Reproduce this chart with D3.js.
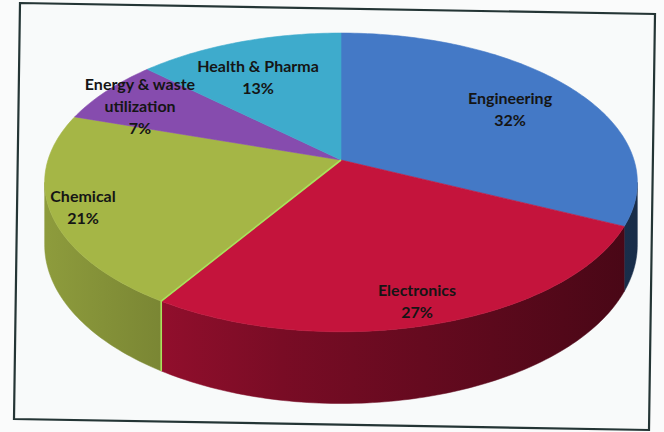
<!DOCTYPE html>
<html>
<head>
<meta charset="utf-8">
<script src="https://cdn.jsdelivr.net/npm/d3@7"></script>
<style>
  html, body { margin: 0; padding: 0; background: #fafbfb; }
  svg { display: block; }
</style>
</head>
<body>
<svg width="664" height="432"></svg>
<script>
// data
const categories = ['Engineering', 'Electronics', 'Chemical', 'Energy & waste utilization', 'Health & Pharma'];
const values = [32, 27, 21, 7, 13];
const labelLines = [['Engineering'], ['Electronics'], ['Chemical'], ['Energy & waste', 'utilization'], ['Health & Pharma']];
const colors = ['#4479c6', '#c4143c', '#a5b646', '#864cae', '#3eabcc'];

const svg = d3.select('svg');
const width = +svg.attr('width');
const height = +svg.attr('height');

// page + scanned frame (slightly rotated)
svg.append('rect').attr('width', width).attr('height', height).attr('fill', '#fafbfb');
svg.append('path')
    .attr('d', 'M20,3 L655,14 L649,430 L14,419 Z')
    .attr('fill', '#f8fafa')
    .attr('stroke', '#243535')
    .attr('stroke-width', 2.2);

// 3D pie geometry (perspective tilt)
const cx = 341, cy = 160, rx = 293, ry = 146, k = 0.15, depth = 61;
const xScale = d3.scaleLinear().domain([-1, 1]).range([cx - rx, cx + rx]);
const yScale = d3.scaleLinear().domain([-1, 1]).range([cy - ry, cy + ry]);

const proj = (a, r = 1, h = 0) => {
    const u = r * Math.sin(a), v = -r * Math.cos(a);
    const s = 1 / (1 - k * v);
    return [xScale(u * s), yScale(v * s) + h * s];
};
const arcPts = (a0, a1, h = 0) => {
    const n = Math.max(2, Math.ceil(Math.abs(a1 - a0) / (Math.PI / 180)));
    return d3.range(n + 1).map(i => proj(a0 + (a1 - a0) * i / n, 1, h));
};

const pie = d3.pie().sort(null).value(d => d);
const arcs = pie(values);

const line = d3.line().curve(d3.curveLinearClosed);

// side gradients
const defs = svg.append('defs');
colors.forEach((c, i) => {
    const g = defs.append('linearGradient')
        .attr('id', 'side' + i)
        .attr('gradientUnits', 'userSpaceOnUse')
        .attr('x1', cx - rx).attr('x2', cx + rx)
        .attr('y1', 0).attr('y2', 0);
    g.append('stop').attr('offset', 0).attr('stop-color', d3.color(c).darker(0.45));
    g.append('stop').attr('offset', 0.4).attr('stop-color', d3.color(c).darker(1.35));
    g.append('stop').attr('offset', 1).attr('stop-color', d3.color(c).darker(2.8));
});

// visible front side
const frontA = Math.acos(-k);
const frontB = 2 * Math.PI - frontA;
const sides = svg.append('g');
arcs.forEach((d, i) => {
    const a0 = Math.max(d.startAngle, frontA);
    const a1 = Math.min(d.endAngle, frontB);
    if (a1 <= a0) return;
    const pts = arcPts(a0, a1, 0).concat(arcPts(a1, a0, depth));
    sides.append('path')
        .attr('d', line(pts))
        .attr('fill', `url(#side${i})`)
        .attr('stroke', `url(#side${i})`)
        .attr('stroke-width', 0.5);
});

// top faces
const tops = svg.append('g');
arcs.forEach((d, i) => {
    const pts = [[cx, cy]].concat(arcPts(d.startAngle, d.endAngle, 0));
    tops.append('path')
        .attr('d', line(pts))
        .attr('fill', colors[i])
        .attr('stroke', colors[i])
        .attr('stroke-width', 0.6);
});

// light edge of the Chemical slice where it meets Electronics
const chemStart = arcs[2].startAngle;
const pTop = proj(chemStart, 1, 0), pBot = proj(chemStart, 1, depth);
svg.append('path')
    .attr('d', d3.line()([[cx, cy], pTop, pBot]))
    .attr('fill', 'none')
    .attr('stroke', '#a9e25c')
    .attr('stroke-width', 1.6);

// data labels (manual placement, as in the source)
const labelPos = [[510, 98], [417, 290], [83, 196], [140, 84], [258, 66]];
const labels = svg.append('g')
    .attr('font-family', 'Lato, "Open Sans", sans-serif')
    .attr('font-weight', 700)
    .attr('font-size', 16)
    .attr('fill', '#151515')
    .attr('text-anchor', 'middle');
arcs.forEach((d, i) => {
    const t = labels.append('text')
        .attr('x', labelPos[i][0])
        .attr('y', labelPos[i][1]);
    labelLines[i].concat([values[i] + '%']).forEach((s, j) => {
        t.append('tspan')
            .attr('x', labelPos[i][0])
            .attr('dy', j === 0 ? '0.35em' : 22)
            .text(s);
    });
});
</script>
</body>
</html>
